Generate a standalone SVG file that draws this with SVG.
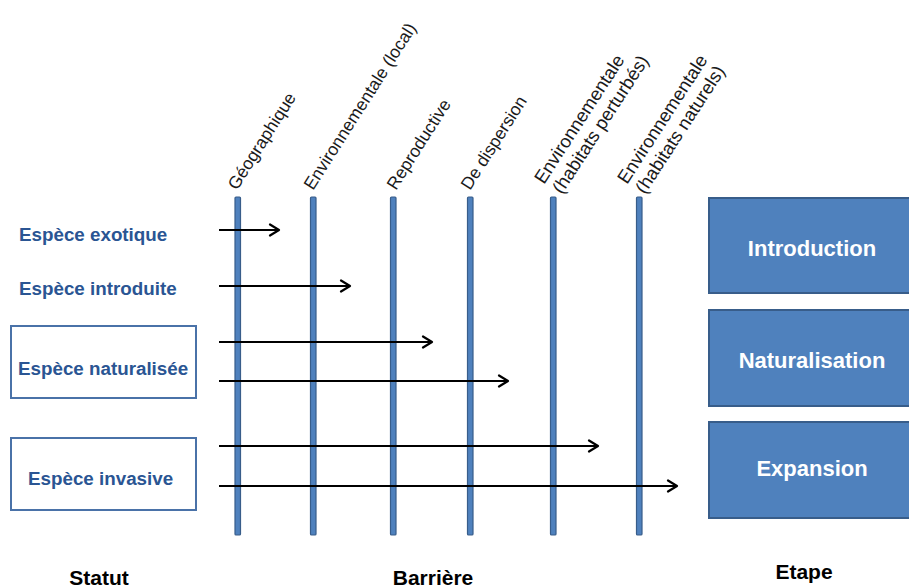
<svg xmlns="http://www.w3.org/2000/svg" width="909" height="588" viewBox="0 0 909 588">
<defs>
<marker id="ah" markerWidth="14" markerHeight="14" refX="12" refY="7" orient="auto" markerUnits="userSpaceOnUse">
<path d="M3,1.5 L12,7 L3,12.5" fill="none" stroke="#000" stroke-width="2.2" stroke-linecap="round" stroke-linejoin="round"/>
</marker>
</defs>
<style>
.bar{fill:#4F81BD;stroke:#385D8A;stroke-width:1.2}
.arr{stroke:#000;stroke-width:2.2;fill:none;marker-end:url(#ah)}
.stat{font-family:"Liberation Sans",Arial,sans-serif;font-weight:bold;font-size:18.8px;fill:#2A5593}
.sbox{fill:#fff;stroke:#4A72A8;stroke-width:2}
.stage{fill:#4F81BD;stroke:#385D8A;stroke-width:2}
.stxt{font-family:"Liberation Sans",Arial,sans-serif;font-weight:bold;font-size:22px;fill:#fff;text-anchor:middle}
.bl{font-family:"Liberation Sans",Arial,sans-serif;font-size:17.5px;fill:#1a1a1a}
.bl2{font-family:"Liberation Sans",Arial,sans-serif;font-size:18.5px;fill:#1a1a1a}
.ft{font-family:"Liberation Sans",Arial,sans-serif;font-weight:bold;font-size:21px;fill:#000;text-anchor:middle}
</style>
<rect width="909" height="588" fill="#fff"/>
<g id="barriers">
<rect class="bar" x="235" y="197" width="5.5" height="338" rx="1"/>
<rect class="bar" x="310.5" y="197" width="5.5" height="338" rx="1"/>
<rect class="bar" x="390.5" y="197" width="5.5" height="338" rx="1"/>
<rect class="bar" x="467.5" y="197" width="5.5" height="338" rx="1"/>
<rect class="bar" x="550.5" y="197" width="5.5" height="338" rx="1"/>
<rect class="bar" x="636.5" y="197" width="5.5" height="338" rx="1"/>
</g>
<g id="barrier-labels">
<text class="bl" transform="translate(237,191) rotate(-57.5)">Géographique</text>
<text class="bl" transform="translate(313,191) rotate(-57.5)">Environnementale (local)</text>
<text class="bl" transform="translate(396,191) rotate(-57.5)">Reproductive</text>
<text class="bl" transform="translate(470,191) rotate(-57.5)">De dispersion</text>
<text class="bl2" transform="translate(544,185) rotate(-57)">Environnementale</text>
<text class="bl2" transform="translate(562,195) rotate(-57)">(habitats perturbés)</text>
<text class="bl2" transform="translate(627,185) rotate(-57)">Environnementale</text>
<text class="bl2" transform="translate(645,195) rotate(-57)">(habitats naturels)</text>
</g>
<g id="statut-exotique"><text class="stat" x="19" y="241">Espèce exotique</text></g>
<g id="statut-introduite"><text class="stat" x="19" y="295">Espèce introduite</text></g>
<g id="statut-naturalisee"><rect class="sbox" x="11" y="326" width="185" height="72"/><text class="stat" x="18" y="375">Espèce naturalisée</text></g>
<g id="statut-invasive"><rect class="sbox" x="11" y="438" width="185" height="72"/><text class="stat" x="28" y="485">Espèce invasive</text></g>
<g id="connectors">
<line class="arr" x1="219" y1="230" x2="279" y2="230"/>
<line class="arr" x1="219" y1="286" x2="350" y2="286"/>
<line class="arr" x1="219" y1="342" x2="432" y2="342"/>
<line class="arr" x1="219" y1="381" x2="508" y2="381"/>
<line class="arr" x1="219" y1="446" x2="598" y2="446"/>
<line class="arr" x1="219" y1="486" x2="677" y2="486"/>
</g>
<g id="etape-introduction"><rect class="stage" x="709" y="198" width="210" height="95"/><text class="stxt" x="812" y="256">Introduction</text></g>
<g id="etape-naturalisation"><rect class="stage" x="709" y="310" width="210" height="96"/><text class="stxt" x="812" y="368">Naturalisation</text></g>
<g id="etape-expansion"><rect class="stage" x="709" y="422" width="210" height="96"/><text class="stxt" x="812" y="476">Expansion</text></g>
<g id="footer">
<text class="ft" x="99" y="585">Statut</text>
<text class="ft" x="433" y="585">Barrière</text>
<text class="ft" x="804" y="579">Etape</text>
</g>
</svg>
